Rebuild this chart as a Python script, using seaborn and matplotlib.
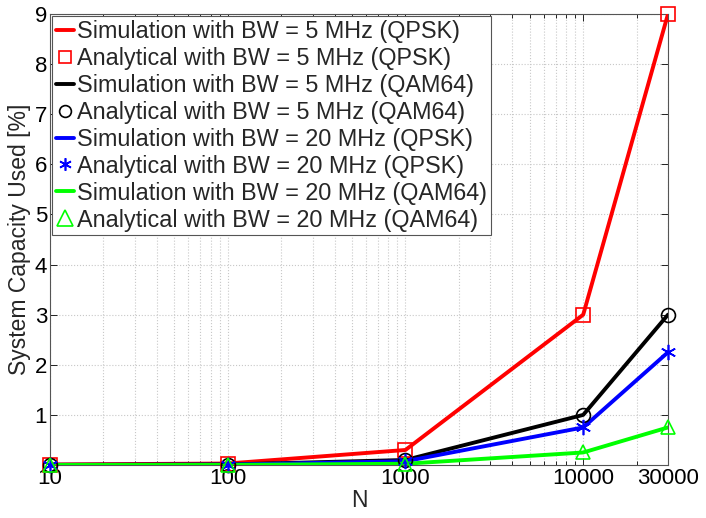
import matplotlib
matplotlib.use("Agg")
import matplotlib.pyplot as plt
import seaborn as sns
import pandas as pd
import numpy as np

N = [10, 100, 1000, 10000, 30000]
sim_5_qpsk = [0.01, 0.03, 0.3, 3.0, 9.0]
ana_5_qpsk = [0.01, 0.03, 0.3, 3.0, 9.0]
sim_5_qam = [0.0033, 0.01, 0.1, 1.0, 3.0]
ana_5_qam = [0.0033, 0.01, 0.1, 1.0, 3.0]
sim_20_qpsk = [0.0025, 0.0075, 0.075, 0.75, 2.25]
ana_20_qpsk = [0.0025, 0.0075, 0.075, 0.75, 2.25]
sim_20_qam = [0.0008, 0.0025, 0.025, 0.25, 0.75]
ana_20_qam = [0.0008, 0.0025, 0.025, 0.25, 0.75]

x_ticks = [10, 100, 1000, 10000, 30000]
x_ticklabels = ["10", "100", "1000", "10000", "30000"]
y_ticks = [1, 2, 3, 4, 5, 6, 7, 8, 9]

sns.set_theme(style="ticks")
plt.rcParams['font.family'] = ['Liberation Sans', 'DejaVu Sans']

fig = plt.figure(figsize=(7.06, 5.18), dpi=100)
ax = fig.add_axes([0.0708, 0.1023, 0.8754, 0.8707])

series = [
    ("Simulation with BW = 5 MHz (QPSK)", sim_5_qpsk, "#ff0000", None, None),
    ("Analytical with BW = 5 MHz (QPSK)", ana_5_qpsk, "#ff0000", "s", 8),
    ("Simulation with BW = 5 MHz (QAM64)", sim_5_qam, "#000000", None, None),
    ("Analytical with BW = 5 MHz (QAM64)", ana_5_qam, "#000000", "o", 8.5),
    ("Simulation with BW = 20 MHz (QPSK)", sim_20_qpsk, "#0000ff", None, None),
    ("Analytical with BW = 20 MHz (QPSK)", ana_20_qpsk, "#0000ff", (6, 2, 0), 9),
    ("Simulation with BW = 20 MHz (QAM64)", sim_20_qam, "#00ff00", None, None),
    ("Analytical with BW = 20 MHz (QAM64)", ana_20_qam, "#00ff00", "^", 11),
]

handles = []
for label, vals, color, marker, lms in series:
    df = pd.DataFrame({"N": N, "v": vals})
    if marker is None:
        sns.lineplot(data=df, x="N", y="v", ax=ax, color=color, linewidth=2.8,
                     label=label, legend=False, zorder=3)
        h = plt.Line2D([], [], color=color, linewidth=2.8)
    else:
        ms = 10 if marker != (6, 2, 0) else 11
        ax.plot(df["N"], df["v"], linestyle="none", marker=marker, markersize=ms,
                markerfacecolor="none", markeredgecolor=color, markeredgewidth=1.2,
                color=color, zorder=4, clip_on=False)
        h = plt.Line2D([], [], linestyle="none", marker=marker, markersize=lms,
                       markerfacecolor="none", markeredgecolor=color, markeredgewidth=1.2)
    handles.append((h, label))

ax.set_xscale("log")
ax.set_xlim(10, 30000)
ax.set_ylim(0, 9)
ax.set_xticks(x_ticks)
ax.set_xticklabels(x_ticklabels)
ax.set_yticks(y_ticks)
ax.set_yticklabels([str(t) for t in y_ticks])

ax.grid(True, which="major", linestyle=":", color="#c8c8c8", linewidth=0.8)
ax.grid(True, which="minor", axis="x", linestyle=":", color="#c8c8c8", linewidth=0.8)

ax.tick_params(axis="both", which="both", direction="in", top=True, right=True,
               labelsize=16, colors="#000000", width=0.6, pad=2)
ax.tick_params(axis="both", which="major", length=5)
ax.tick_params(axis="x", which="minor", length=3)
for lbl in ax.get_xticklabels() + ax.get_yticklabels():
    lbl.set_color("black")
for s in ax.spines.values():
    s.set_color("#555555")
    s.set_linewidth(0.8)

ax.set_xlabel("N", fontsize=16.5, labelpad=0)
ax.set_ylabel("System Capacity Used [%]", fontsize=16.5, labelpad=3)

leg = ax.legend([h for h, _ in handles], [l for _, l in handles], loc="upper left",
                fontsize=16.8, frameon=True, fancybox=False, edgecolor="#555555",
                handlelength=0.8, handletextpad=0.12, labelspacing=0.17,
                borderpad=0.15, borderaxespad=0.1, framealpha=1)
leg.get_frame().set_linewidth(0.8)

fig.savefig("out.png", dpi=100)
